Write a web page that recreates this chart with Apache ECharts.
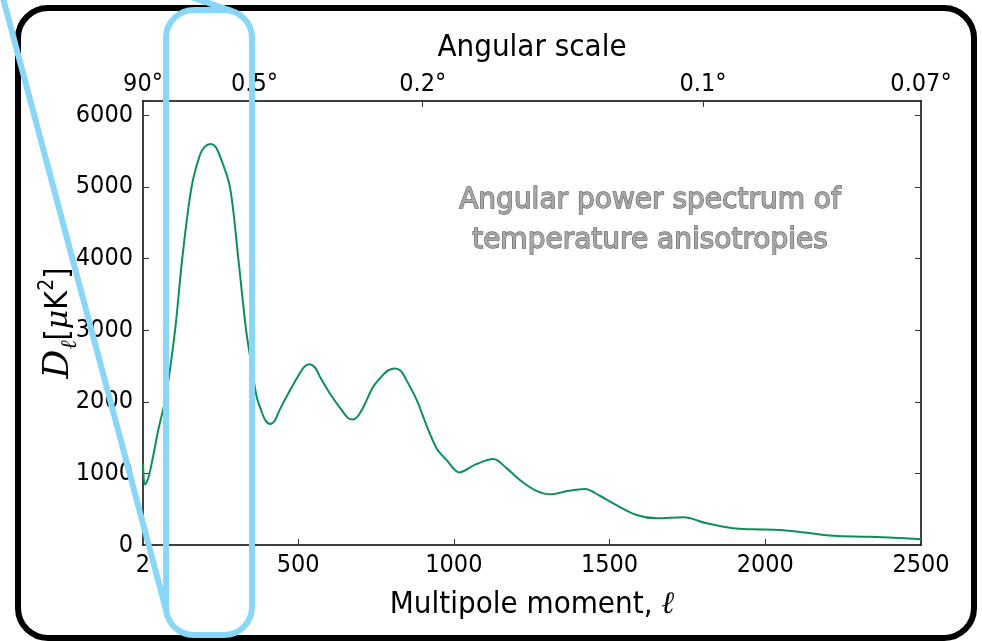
<!DOCTYPE html>
<html>
<head>
<meta charset="utf-8">
<script src="https://cdn.jsdelivr.net/npm/echarts@6/dist/echarts.min.js"></script>
<style>
  html, body { margin: 0; padding: 0; background: #ffffff; }
  #chart { width: 982px; height: 641px; }
</style>
</head>
<body>
<div id="chart"></div>
<script>
// CMB temperature power spectrum D_l versus multipole l
const multipoles = [2, 9, 20, 35, 51, 75, 105, 128, 158, 185, 200, 219, 235, 250, 281, 308, 333, 350, 367, 385,
  395, 410, 425, 440, 474, 505, 520, 536, 555, 570, 602, 640, 660, 675, 690, 710, 741, 775, 790, 811,
  830, 845, 881, 912, 945, 977, 1018, 1070, 1127, 1170, 1212, 1260, 1309, 1370, 1421, 1470, 1512, 1587, 1651, 1737,
  1812, 1897, 1962, 2047, 2133, 2218, 2325, 2411, 2500];
const powerValues = [1140, 845, 950, 1250, 1605, 2065, 3000, 4000, 5000, 5450, 5560, 5600, 5560, 5420, 5000, 4000, 3000, 2520, 2070, 1840,
  1740, 1690, 1735, 1880, 2160, 2395, 2490, 2525, 2475, 2350, 2116, 1884, 1775, 1754, 1790, 1930, 2209, 2386, 2440, 2465,
  2430, 2326, 2023, 1674, 1349, 1186, 1014, 1126, 1200, 1070, 907, 767, 707, 758, 781, 684, 581, 419, 372, 386,
  303, 233, 219, 209, 172, 130, 116, 102, 80];

// Axis ticks
const multipoleLabelValues = [2, 500, 1000, 1500, 2000, 2500];
const multipoleTickValues = [500, 1000, 1500, 2000, 2500];
const powerLabelValues = [0, 1000, 2000, 3000, 4000, 5000, 6000];
const powerTickValues = [1000, 2000, 3000, 4000, 5000, 6000];
const angularTickPositions = [2, 360, 900, 1800, 2500];
const angularTickLabels = ['90°', '0.5°', '0.2°', '0.1°', '0.07°'];

const axisFont = '"Liberation Sans Narrow", "DejaVu Sans Condensed", sans-serif';
const black = '#000000';

const chart = echarts.init(document.getElementById('chart'), null, { renderer: 'canvas' });

const frameLine = { show: true, onZero: false, lineStyle: { color: black, width: 1.5 } };
const innerTick = (values) => ({ show: true, inside: true, length: 6, customValues: values, lineStyle: { color: '#333', width: 1 } });
const plain = (v) => String(v);

const angularLabelOf = {};
angularTickPositions.forEach((p, i) => { angularLabelOf[p] = angularTickLabels[i]; });

chart.setOption({
  animation: false,
  backgroundColor: '#ffffff',
  grid: { left: 143, top: 101, right: 61, bottom: 96, containLabel: false },
  xAxis: [
    {
      type: 'value', position: 'bottom', min: 2, max: 2500,
      axisLine: frameLine,
      axisTick: innerTick(multipoleTickValues),
      axisLabel: { customValues: multipoleLabelValues, formatter: plain, margin: 8, color: black, fontSize: 25, fontFamily: axisFont },
      splitLine: { show: false },
      name: 'Multipole moment, {l|ℓ}', nameLocation: 'middle', nameGap: 44, nameMoveOverlap: false,
      nameTextStyle: {
        color: black, fontSize: 31, fontFamily: axisFont,
        rich: { l: { fontSize: 31, fontFamily: '"DejaVu Serif", serif', fontStyle: 'italic', color: black } }
      }
    },
    {
      type: 'value', position: 'top', min: 2, max: 2500,
      axisLine: frameLine,
      axisTick: innerTick([360, 900, 1800]),
      axisLabel: {
        customValues: angularTickPositions, margin: 4, color: black, fontSize: 25, fontFamily: axisFont,
        formatter: (v) => angularLabelOf[v] || ''
      },
      splitLine: { show: false },
      name: 'Angular scale', nameLocation: 'middle', nameGap: 38, nameMoveOverlap: false,
      nameTextStyle: { color: black, fontSize: 31, fontFamily: axisFont }
    }
  ],
  yAxis: [
    {
      type: 'value', position: 'left', min: 0, max: 6200,
      axisLine: frameLine,
      axisTick: innerTick(powerTickValues),
      axisLabel: { customValues: powerLabelValues, formatter: plain, margin: 10, color: black, fontSize: 25, fontFamily: axisFont },
      splitLine: { show: false },
      name: '{d|D}{sub|ℓ}{t|[}{mu|μ}{t|K}{sup|2}{t|]}', nameLocation: 'middle', nameGap: 62, nameMoveOverlap: false,
      nameTextStyle: {
        color: black, fontSize: 32, fontFamily: axisFont,
        rich: {
          d: { fontSize: 36, fontFamily: '"DejaVu Serif", serif', fontStyle: 'italic', color: black, lineHeight: 44 },
          sub: { fontSize: 22, fontFamily: '"DejaVu Serif", serif', fontStyle: 'italic', color: black, verticalAlign: 'bottom', lineHeight: 44 },
          t: { fontSize: 32, fontFamily: axisFont, color: black, lineHeight: 44 },
          mu: { fontSize: 30, fontFamily: '"DejaVu Serif", serif', fontStyle: 'italic', color: black, lineHeight: 44 },
          sup: { fontSize: 21, fontFamily: axisFont, color: black, verticalAlign: 'top', lineHeight: 44 }
        }
      }
    },
    {
      type: 'value', position: 'right', min: 0, max: 6200,
      axisLine: frameLine,
      axisTick: innerTick(powerTickValues),
      axisLabel: { show: false },
      splitLine: { show: false }
    }
  ],
  series: [
    {
      type: 'line',
      xAxisIndex: 0, yAxisIndex: 0,
      data: multipoles.map((l, i) => [l, powerValues[i]]),
      showSymbol: false,
      smooth: 0.33,
      lineStyle: { color: '#0e8f57', width: 2 },
      silent: true
    }
  ],
  graphic: [
    {
      type: 'text', x: 650, y: 221, z: 10, silent: true,
      style: {
        text: 'Angular power spectrum of\ntemperature anisotropies',
        align: 'center', verticalAlign: 'middle',
        font: '28px "DejaVu Sans", sans-serif',
        lineHeight: 40,
        fill: '#a8a8a8',
        stroke: '#6a6a6a', lineWidth: 1.3,
        shadowColor: 'rgba(0,0,0,0.35)', shadowBlur: 2, shadowOffsetX: 1, shadowOffsetY: 1
      }
    },
    {
      type: 'rect', z: 20, silent: true,
      shape: { x: 18, y: 8, width: 956, height: 630, r: 30 },
      style: { fill: 'none', stroke: black, lineWidth: 6 }
    },
    {
      type: 'rect', z: 30, silent: true,
      shape: { x: 166, y: 10, width: 86, height: 625, r: 28 },
      style: { fill: 'none', stroke: '#88d6f8', lineWidth: 6 }
    },
    {
      type: 'line', z: 30, silent: true,
      shape: { x1: 3, y1: -2, x2: 166, y2: 610 },
      style: { stroke: '#88d6f8', lineWidth: 6 }
    },
    {
      type: 'line', z: 30, silent: true,
      shape: { x1: 188, y1: -4, x2: 232, y2: 11 },
      style: { stroke: '#88d6f8', lineWidth: 6 }
    }
  ]
});
</script>
</body>
</html>
